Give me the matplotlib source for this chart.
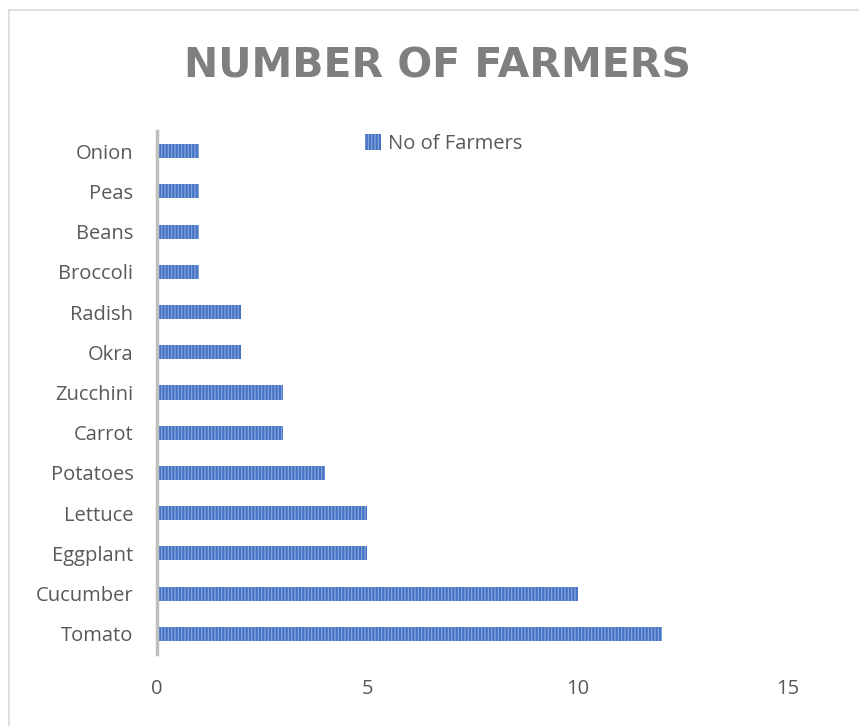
import matplotlib
matplotlib.use("Agg")
import matplotlib.pyplot as plt
from matplotlib.lines import Line2D

categories = ["Tomato", "Cucumber", "Eggplant", "Lettuce", "Potatoes", "Carrot",
              "Zucchini", "Okra", "Radish", "Broccoli", "Beans", "Peas", "Onion"]
values = [12, 10, 5, 5, 4, 3, 3, 2, 2, 1, 1, 1, 1]
xticks = [0, 5, 10, 15]

plt.rcParams['font.family'] = ['Open Sans', 'DejaVu Sans']
plt.rcParams['hatch.linewidth'] = 0.8

W, H = 859, 726
fig = plt.figure(figsize=(W / 100, H / 100), dpi=100)
ax = fig.add_axes([157 / W, (H - 654) / H, (788 - 157) / W, (654 - 131) / H])

bars = ax.barh(range(len(categories)), values, height=0.35, color='#4472C4',
               edgecolor='#8FAADC', linewidth=0, hatch='|||||', label='No of Farmers')

ax.set_xlim(0, 15)
ax.set_ylim(-0.5, len(categories) - 0.5)
ax.set_yticks(range(len(categories)))
ax.set_yticklabels(categories)
ax.set_xticks(xticks)
ax.tick_params(axis='both', length=0, labelsize=14.5, colors='#595959')
ax.tick_params(axis='y', pad=17)
ax.tick_params(axis='x', pad=18)
for s in ['top', 'right', 'bottom']:
    ax.spines[s].set_visible(False)
ax.spines['left'].set_color('#BFBFBF')
ax.spines['left'].set_linewidth(2.5)

fig.text(437 / W, 1 - 66 / H, 'NUMBER OF FARMERS', ha='center', va='center',
         fontsize=29.5, fontweight='bold', color='#7F7F7F', family=['DejaVu Sans'])

leg = ax.legend(loc='center left', bbox_to_anchor=((355 - 157) / (788 - 157), (654 - 144) / (654 - 131)),
                frameon=False, fontsize=14.5, handlelength=0.8, handleheight=0.8,
                handletextpad=0.35, borderpad=0)
for t in leg.get_texts():
    t.set_color('#595959')

# chart border
fig.add_artist(Line2D([9 / W, 9 / W], [0, 1 - 10 / H], color='#D9D9D9', lw=1.2))
fig.add_artist(Line2D([9 / W, 1], [1 - 10 / H, 1 - 10 / H], color='#D9D9D9', lw=1.2))

fig.savefig('out.png', dpi=100)
